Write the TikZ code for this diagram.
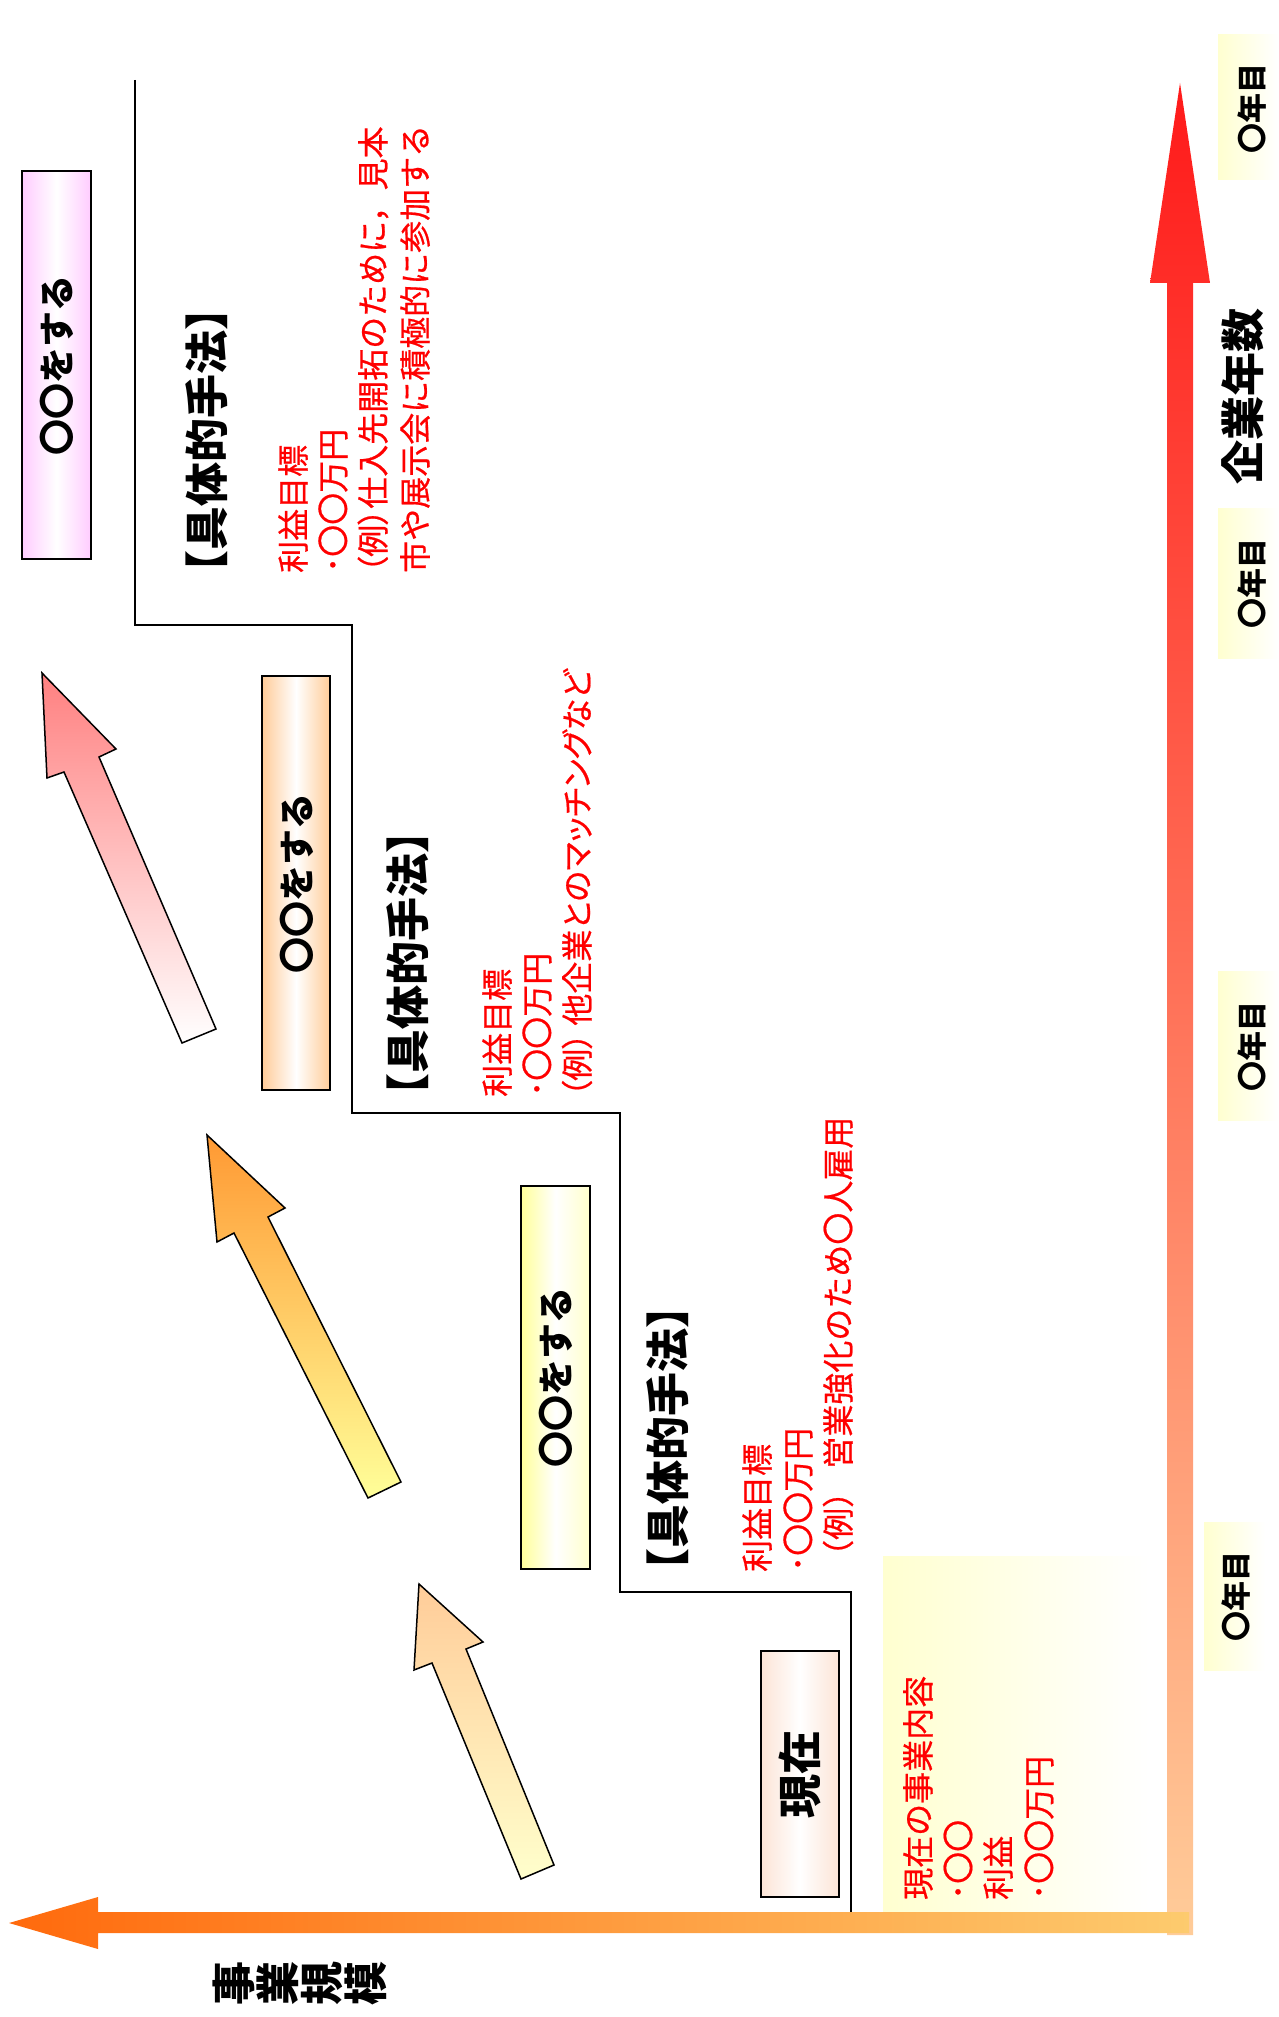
\documentclass[tikz,border=0pt]{standalone}
\usepackage{fontspec}
\setmainfont{Noto Sans CJK JP}
\newfontfamily\redjp{Noto Sans CJK JP}[FakeBold=0.6]
\newfontfamily\redjpp{Noto Sans CJK JP}[FakeBold=0.6,RawFeature=+palt]
\usepackage{tikz}

\definecolor{axisred}{HTML}{FF1A1A}
\definecolor{axispeach}{HTML}{FFCC99}
\definecolor{axisorange}{HTML}{FF6A0D}
\definecolor{axisgold}{HTML}{FDCB6E}
\definecolor{boxpink}{HTML}{FFCCFF}
\definecolor{boxpeach}{HTML}{FFCC99}
\definecolor{boxyellow}{HTML}{FFFF99}
\definecolor{boxnow}{HTML}{FCE4D6}
\definecolor{paleyellow}{HTML}{FFFFD0}

\begin{document}
\begin{tikzpicture}[x=1pt,y=-1pt,
    vtext/.style={rotate=90, anchor=west, inner sep=0pt},
    redtext/.style={vtext, text=red, font=\redjp\fontsize{32}{32}\selectfont},
    headtext/.style={vtext, font=\bfseries\fontsize{44}{44}\selectfont},
    boxtext/.style={rotate=90, inner sep=0pt, font=\bfseries\fontsize{36}{36}\selectfont},
    yeartext/.style={rotate=90, inner sep=0pt, font=\bfseries\fontsize{30}{30}\selectfont},
    planbox/.style={draw=black, line width=1.5pt},
    growarrow/.style={draw=black, line width=1.5pt, line join=miter}]

    \useasboundingbox (0,0) rectangle (1278,2017);

    % Year labels on the right
    \shade[left color=paleyellow, right color=white] (1218,35) rectangle (1278,180);
    \shade[left color=paleyellow, right color=white] (1218,508) rectangle (1278,658);
    \shade[left color=paleyellow, right color=white] (1218,971) rectangle (1278,1120);
    \shade[left color=paleyellow, right color=white] (1204,1522) rectangle (1265,1670);
    \node[yeartext] (year4) at (1252,109) {〇年目};
    \node[yeartext] (year3) at (1252,583) {〇年目};
    \node[yeartext] (year2) at (1252,1046) {〇年目};
    \node[yeartext] (year1) at (1236,1596) {〇年目};

    % Current business panel
    \shade[left color=paleyellow, right color=white] (883,1556) rectangle (1149,1912);

    % Axes (vertical first, the horizontal one lies over its foot)
    \shade[top color=axisred, bottom color=axispeach] (1180,83) -- (1210,283) -- (1193,283) -- (1193,1935)
        -- (1167,1935) -- (1167,283) -- (1150,283) -- cycle; % years axis
    \shade[left color=axisorange, right color=axisgold] (9,1923) -- (98,1897) -- (98,1912) -- (1189,1912)
        -- (1189,1933) -- (98,1933) -- (98,1949) -- cycle; % scale axis
    \node[rotate=90, inner sep=0pt, font=\bfseries\fontsize{44}{44}\selectfont] (yearsLabel) at (1243,396) {企業年数};
    \node[rotate=90, inner sep=0pt, align=center, font=\bfseries\fontsize{44}{44}\selectfont] (scaleLabel) at (300,1983) {事\\業\\規\\模};

    % Staircase line
    \draw[line width=2pt] (135,80) |- (352,625) |- (620,1113) |- (851,1592) -- (851,1912);

    % Plan boxes
    \shadedraw[planbox, left color=boxpink, right color=boxpink, middle color=white] (22,171) rectangle (91,559);
    \shadedraw[planbox, left color=boxpeach, right color=boxpeach, middle color=white] (262,676) rectangle (330,1090);
    \shadedraw[planbox, left color=boxyellow, right color=boxyellow!50, middle color=white] (521,1186) rectangle (590,1569);
    \shadedraw[planbox, left color=boxnow, right color=boxnow, middle color=white] (761,1651) rectangle (839,1897);
    \node[boxtext] (plan3) at (57,365) {〇〇をする};
    \node[boxtext] (plan2) at (297,883) {〇〇をする};
    \node[boxtext] (plan1) at (556,1377) {〇〇をする};
    \node[rotate=90, inner sep=0pt, font=\bfseries\fontsize{44}{44}\selectfont] (now) at (800,1774) {現在};

    % Growth arrows
    \shadedraw[growarrow, top color=red!50, bottom color=white] (42,673) -- (116,749) -- (99,757) -- (216,1029)
        -- (182,1043) -- (64,772) -- (47,778) -- cycle;
    \shadedraw[growarrow, top color=orange!80, bottom color=boxyellow] (207,1135) -- (285,1208) -- (268,1217) -- (401,1482)
        -- (368,1498) -- (234,1233) -- (217,1242) -- cycle;
    \shadedraw[growarrow, top color=boxpeach, bottom color=yellow!20] (419,1584) -- (483,1642) -- (466,1649) -- (554,1865)
        -- (521,1879) -- (432,1663) -- (414,1670) -- cycle;

    % Step 3 (top)
    \node[headtext] (head3) at (207,595) {【具体的手法】};
    \node[redtext] (goal3a) at (293,573) {利益目標};
    \node[redtext] (goal3b) at (333,573) {･〇〇万円};
    \node[redtext] (goal3c) at (373,573) {{\redjpp（例）}仕入先開拓のために，見本};
    \node[redtext] (goal3d) at (415,573) {市や展示会に積極的に参加する};

    % Step 2
    \node[headtext] (head2) at (408,1118) {【具体的手法】};
    \node[redtext] (goal2a) at (497,1097) {利益目標};
    \node[redtext] (goal2b) at (537,1097) {･〇〇万円};
    \node[redtext] (goal2c) at (577,1097) {\redjpp（例） 他企業とのマッチングなど};

    % Step 1
    \node[headtext] (head1) at (668,1593) {【具体的手法】};
    \node[redtext] (goal1a) at (757,1572) {利益目標};
    \node[redtext] (goal1b) at (798,1572) {･〇〇万円};
    \node[redtext] (goal1c) at (838,1572) {（例） 営業強化のため〇人雇用};

    % Current business
    \node[redtext] (nowa) at (918,1900) {現在の事業内容};
    \node[redtext] (nowb) at (958,1900) {･〇〇};
    \node[redtext] (nowc) at (998,1900) {利益};
    \node[redtext] (nowd) at (1039,1900) {･〇〇万円};
\end{tikzpicture}
\end{document}
